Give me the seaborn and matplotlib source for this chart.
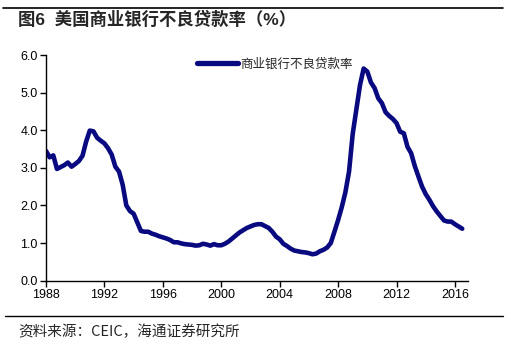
import numpy as np
import pandas as pd
import matplotlib
matplotlib.use("Agg")
import matplotlib.pyplot as plt
import seaborn as sns
from matplotlib.lines import Line2D

title = "图6  美国商业银行不良贷款率（%）"
series_name = "商业银行不良贷款率"
source = "资料来源：CEIC，海通证券研究所"

start_year = 1988
values = [
    3.45, 3.28, 3.33, 2.97,   # 1988
    3.02, 3.07, 3.14, 3.03,   # 1989
    3.10, 3.18, 3.32, 3.70,   # 1990
    3.99, 3.97, 3.80, 3.72,   # 1991
    3.65, 3.52, 3.35, 3.03,   # 1992
    2.90, 2.55, 2.00, 1.85,   # 1993
    1.78, 1.55, 1.32, 1.30,   # 1994
    1.30, 1.25, 1.22, 1.18,   # 1995
    1.15, 1.12, 1.08, 1.02,   # 1996
    1.02, 0.99, 0.97, 0.96,   # 1997
    0.95, 0.93, 0.94, 0.98,   # 1998
    0.96, 0.93, 0.97, 0.94,   # 1999
    0.94, 0.98, 1.04, 1.12,   # 2000
    1.20, 1.28, 1.34, 1.40,   # 2001
    1.44, 1.48, 1.50, 1.50,   # 2002
    1.45, 1.40, 1.30, 1.17,   # 2003
    1.10, 0.98, 0.92, 0.85,   # 2004
    0.80, 0.78, 0.76, 0.75,   # 2005
    0.73, 0.70, 0.72, 0.78,   # 2006
    0.82, 0.88, 1.00, 1.30,   # 2007
    1.61, 1.95, 2.35, 2.90,   # 2008
    3.90, 4.55, 5.20, 5.64,   # 2009
    5.56, 5.27, 5.12, 4.85,   # 2010
    4.72, 4.48, 4.38, 4.30,   # 2011
    4.19, 3.96, 3.92, 3.56,   # 2012
    3.39, 3.05, 2.77, 2.50,   # 2013
    2.30, 2.15, 1.98, 1.84,   # 2014
    1.72, 1.60, 1.57, 1.57,   # 2015
    1.50, 1.44, 1.38,         # 2016
]
x_ticks = [1988, 1992, 1996, 2000, 2004, 2008, 2012, 2016]
y_ticks = [0.0, 1.0, 2.0, 3.0, 4.0, 5.0, 6.0]

sns.set_theme(style="white")
plt.rcParams['font.family'] = ['Liberation Sans', 'Noto Sans CJK SC', 'DejaVu Sans']

df = pd.DataFrame({
    "t": [start_year + i / 4 for i in range(len(values))],
    "v": values,
})

fig = plt.figure(figsize=(5.11, 3.46), dpi=100)
ax = fig.add_axes([0.090, 0.189, 0.826, 0.652])
color = "#0a0a80"
sns.lineplot(data=df, x="t", y="v", ax=ax, color=color, linewidth=3.3,
             solid_capstyle="round", solid_joinstyle="round")

ax.set_xlim(1988, 2016.9)
ax.set_ylim(0, 6)
ax.set_xticks(x_ticks)
ax.set_xticklabels([str(t) for t in x_ticks])
ax.set_yticks(y_ticks)
ax.set_yticklabels([f"{t:.1f}" for t in y_ticks])
ax.set_xlabel("")
ax.set_ylabel("")
for s in ["top", "right"]:
    ax.spines[s].set_visible(False)
for s in ["left", "bottom"]:
    ax.spines[s].set_color("black")
    ax.spines[s].set_linewidth(1.0)
ax.tick_params(axis="both", direction="out", length=4, width=1, color="black",
               labelsize=9, labelcolor="black", pad=2, left=True, bottom=True)
ax.grid(False)

handle = Line2D([0], [0], color=color, linewidth=3.8)
leg = ax.legend([handle], [series_name], loc="center left",
                bbox_to_anchor=(151 / 422, 0.96), frameon=False,
                borderpad=0, borderaxespad=0,
                handlelength=3.3, handletextpad=0.15,
                prop={"family": ["Noto Sans CJK SC"], "size": 9})

fig.text(0.035, 0.945, title, fontsize=12.5, fontweight="bold",
         family=["Liberation Sans", "Noto Sans CJK SC"], va="center")
fig.add_artist(Line2D([0.005, 0.985], [0.978, 0.978], color="black", linewidth=1.2,
                      transform=fig.transFigure))
fig.add_artist(Line2D([0.01, 0.985], [0.087, 0.087], color="black", linewidth=1.0,
                      transform=fig.transFigure))
fig.text(0.035, 0.040, source, fontsize=10.5,
         family=["Noto Sans CJK SC", "Liberation Sans"], va="center")

fig.savefig("out.png", dpi=100)
